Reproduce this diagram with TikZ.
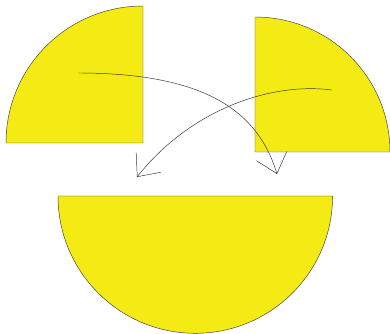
\documentclass[tikz,border=0pt]{standalone}
\usepackage{xcolor}
\usepackage{tikz}
\usetikzlibrary{arrows.meta}
\definecolor{sunyellow}{RGB}{245,235,20}

\begin{document}
\begin{tikzpicture}[
    x=0.03cm, y=0.03cm,
    piece/.style={draw=black!75, fill=sunyellow, line width=0.4pt},
    arrowstyle/.style={-{Straight Barb[length=0.55cm, width=0.95cm]}, draw=black!80, line width=0.4pt},
]
\useasboundingbox (0,0) rectangle (390,333);

%% Pieces
\draw[piece] (143,190) -- (6,190) arc[start angle=180, end angle=90, radius=137] -- cycle;
\draw[piece] (255,181) -- (390,181) arc[start angle=0, end angle=90, radius=135] -- cycle;
\draw[piece] (58,137) arc[start angle=180, end angle=360, radius=137.3] -- cycle;

%% Arrow ends
\coordinate (lstart) at (78,260);
\coordinate (lend)   at (277,159);
\coordinate (rstart) at (332,243);
\coordinate (rend)   at (137,156);

%% Arrows
\draw[arrowstyle] (lstart) .. controls (205,260) and (258,222) .. (lend);
\draw[arrowstyle] (rstart) .. controls (270,251) and (190,223) .. (rend);

\end{tikzpicture}
\end{document}
